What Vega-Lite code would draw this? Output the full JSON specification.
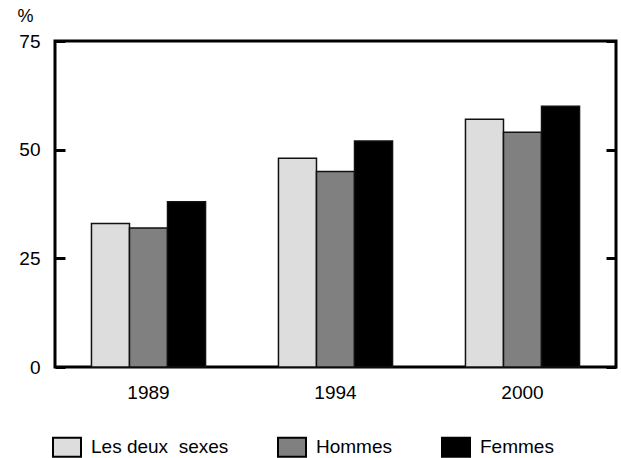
{
  "$schema": "https://vega.github.io/schema/vega-lite/v6.json",
  "width": 561,
  "height": 326,
  "autosize": "none",
  "padding": {"left": 55, "top": 41, "right": 5, "bottom": 91},
  "config": {
    "font": "Liberation Sans",
    "view": {"stroke": "black", "strokeWidth": 3},
    "axis": {"grid": false, "domain": false, "labelColor": "black", "titleColor": "black", "labelFont": "Liberation Sans", "titleFont": "Liberation Sans"}
  },
  "data": {
    "values": [
      {"annee": "1989", "sexe": "Les deux\u00a0 sexes", "pct": 33},
      {"annee": "1989", "sexe": "Hommes", "pct": 32},
      {"annee": "1989", "sexe": "Femmes", "pct": 38},
      {"annee": "1994", "sexe": "Les deux\u00a0 sexes", "pct": 48},
      {"annee": "1994", "sexe": "Hommes", "pct": 45},
      {"annee": "1994", "sexe": "Femmes", "pct": 52},
      {"annee": "2000", "sexe": "Les deux\u00a0 sexes", "pct": 57},
      {"annee": "2000", "sexe": "Hommes", "pct": 54},
      {"annee": "2000", "sexe": "Femmes", "pct": 60}
    ]
  },
  "layer": [
    {
      "mark": {"type": "bar", "stroke": "#111111", "strokeWidth": 1.5},
      "encoding": {
        "x": {
          "field": "annee", "type": "nominal",
          "scale": {"paddingInner": 0.39, "paddingOuter": 0.195},
          "axis": {"title": null, "labelAngle": 0, "ticks": false, "labelPadding": 16, "labelFontSize": 19}
        },
        "xOffset": {"field": "sexe", "type": "nominal", "sort": ["Les deux\u00a0 sexes", "Hommes", "Femmes"], "scale": {"paddingInner": 0, "paddingOuter": 0}},
        "y": {
          "field": "pct", "type": "quantitative",
          "scale": {"domain": [0, 75], "nice": false},
          "axis": {
            "orient": "left", "values": [0, 25, 50, 75], "tickSize": -10, "tickWidth": 3, "tickColor": "black",
            "labelPadding": 25, "labelFontSize": 19,
            "title": "%", "titleAngle": 0, "titleAlign": "center", "titleBaseline": "middle",
            "titleX": -30, "titleY": -25, "titleFontSize": 18, "titleFontWeight": "normal"
          }
        },
        "color": {
          "field": "sexe", "type": "nominal",
          "scale": {"domain": ["Les deux\u00a0 sexes", "Hommes", "Femmes"], "range": ["#dddddd", "#808080", "#000000"]},
          "legend": {
            "orient": "none", "legendX": -3, "legendY": 391, "direction": "horizontal", "title": null,
            "symbolType": "M-1,-0.68H1V0.68H-1Z", "symbolSize": 784, "symbolStrokeColor": "black", "symbolStrokeWidth": 2,
            "symbolOpacity": 1, "labelFontSize": 19, "labelOffset": 9, "columnPadding": 45, "padding": 0, "labelColor": "black"
          }
        }
      }
    },
    {
      "mark": {"type": "bar", "opacity": 0},
      "encoding": {
        "x": {"field": "annee", "type": "nominal"},
        "y": {
          "field": "pct", "type": "quantitative",
          "axis": {"orient": "right", "values": [0, 25, 50, 75], "labels": false, "title": null, "tickSize": -10, "tickWidth": 3, "tickColor": "black"}
        }
      }
    }
  ],
  "resolve": {"axis": {"y": "independent"}}
}
